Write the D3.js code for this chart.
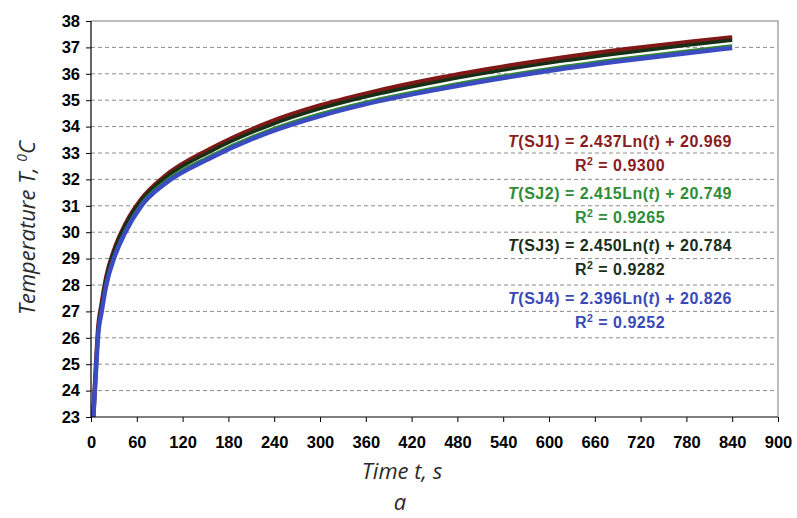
<!DOCTYPE html>
<html>
<head>
<meta charset="utf-8">
<script src="https://cdn.jsdelivr.net/npm/d3@7"></script>
<style>
  body { margin: 0; background: #fff; }
  svg { display: block; }
</style>
</head>
<body>
<svg id="chart" width="797" height="518"></svg>
<script>
// data ---------------------------------------------------
const times = [3, 5, 7, 9, 14, 20, 30, 45, 66, 96, 156, 235, 300, 360, 457, 540, 614, 700, 780, 840]
const sj1 = [23.0, 24.1, 25.2, 26.2, 27.3, 28.3, 29.3, 30.3, 31.25, 32.1, 33.15, 34.18, 34.8, 35.25, 35.85, 36.27, 36.6, 36.93, 37.2, 37.38]
const sj3 = [23.0, 24.1, 25.15, 26.15, 27.25, 28.25, 29.25, 30.25, 31.2, 32.03, 33.05, 34.06, 34.68, 35.13, 35.72, 36.14, 36.47, 36.8, 37.08, 37.27]
const sj2 = [23.0, 24.05, 25.05, 26.05, 27.1, 28.1, 29.1, 30.1, 31.1, 31.92, 32.9, 33.9, 34.5, 34.95, 35.52, 35.94, 36.27, 36.6, 36.88, 37.08]
const sj4 = [23.0, 24.0, 25.0, 26.0, 27.0, 28.0, 29.0, 30.0, 31.0, 31.82, 32.8, 33.8, 34.4, 34.85, 35.42, 35.84, 36.17, 36.5, 36.78, 36.98]

const seriesNames = ['SJ1', 'SJ2', 'SJ3', 'SJ4']
const fitSlope = ['2.437', '2.415', '2.450', '2.396']
const fitIntercept = ['20.969', '20.749', '20.784', '20.826']
const fitR2 = ['0.9300', '0.9265', '0.9282', '0.9252']

const xTicks = d3.range(0, 901, 60)
const yTicks = d3.range(23, 39, 1)

const lineColor = { SJ1: '#801818', SJ2: '#2f8a30', SJ3: '#163016', SJ4: '#3a4cc0' }
const textColor = { SJ1: '#8a1c1c', SJ2: '#2e8c36', SJ3: '#1a2e1a', SJ4: '#3948b8' }

// chart ------------------------------
function draw() {
  const svg = d3.select('#chart')
  const left = 91
  const right = 778
  const top = 21
  const bottom = 417

  const x = d3.scaleLinear().domain([0, 900]).range([left, right])
  const y = d3.scaleLinear().domain([23, 38]).range([bottom, top])

  svg.append('rect').attr('width', 797).attr('height', 518).attr('fill', '#fff')

  // dashed grid
  svg
    .append('g')
    .selectAll('line')
    .data(yTicks.filter((d) => d > 23 && d < 38))
    .join('line')
    .attr('x1', left)
    .attr('x2', right)
    .attr('y1', (d) => y(d))
    .attr('y2', (d) => y(d))
    .attr('stroke', '#8c8c8c')
    .attr('stroke-width', 1)
    .attr('stroke-dasharray', '4,3')

  // plot frame top + right
  svg
    .append('path')
    .attr('d', `M${left},${y(38)}H${x(900)}V${y(23)}`)
    .attr('fill', 'none')
    .attr('stroke', '#a8a8a8')
    .attr('stroke-width', 1.5)

  // series
  const series = [
    { name: 'SJ1', values: sj1, w: 4.5 },
    { name: 'SJ3', values: sj3, w: 3.5 },
    { name: 'SJ2', values: sj2, w: 2.2 },
    { name: 'SJ4', values: sj4, w: 4.5 }
  ]

  const line = d3
    .line()
    .x((d) => x(d[0]))
    .y((d) => y(d[1]))
    .curve(d3.curveMonotoneX)

  svg
    .append('g')
    .selectAll('path')
    .data(series)
    .join('path')
    .attr('d', (s) => line(times.map((t, i) => [t, s.values[i]])))
    .attr('fill', 'none')
    .attr('stroke', (s) => lineColor[s.name])
    .attr('stroke-width', (s) => s.w)
    .attr('stroke-linejoin', 'round')

  // axes
  const xAxis = d3.axisBottom(x).tickValues(xTicks).tickSize(5).tickPadding(8)
  const yAxis = d3.axisLeft(y).tickValues(yTicks).tickSize(5).tickPadding(6)

  const gx = svg.append('g').attr('transform', `translate(0,${bottom})`).call(xAxis)
  const gy = svg.append('g').attr('transform', `translate(${left},0)`).call(yAxis)

  ;[gx, gy].forEach((g) => {
    g.select('.domain').attr('stroke', '#000').attr('stroke-width', 1.2)
    g.selectAll('.tick line').attr('stroke', '#000')
    g.selectAll('.tick text')
      .attr('fill', '#000')
      .style('font-family', '"Liberation Sans", Arial, sans-serif')
      .style('font-weight', 'bold')
      .style('font-size', '16.5px')
  })
  gx.select('.domain').attr('d', `M${left},0H${right}`)
  gy.select('.domain').attr('d', `M0,${top}V${bottom}`)
  gx.selectAll('.tick text').attr('dy', '1.08em')

  // fit labels
  const labels = svg
    .append('g')
    .style('font-family', '"Liberation Sans", Arial, sans-serif')
    .style('font-weight', 'bold')
    .style('font-size', '16px')
    .style('letter-spacing', '0.5px')
    .attr('text-anchor', 'middle')

  seriesNames.forEach((name, i) => {
    const cy = 141 + i * 52.3
    const eq = labels
      .append('text')
      .attr('x', 620)
      .attr('y', cy)
      .attr('dy', '0.35em')
      .attr('fill', textColor[name])
    eq.append('tspan').style('font-style', 'italic').text('T')
    eq.append('tspan').text(`(${name}) = ${fitSlope[i]}Ln(`)
    eq.append('tspan').style('font-style', 'italic').text('t')
    eq.append('tspan').text(`) + ${fitIntercept[i]}`)

    const r2 = labels
      .append('text')
      .attr('x', 620)
      .attr('y', cy + 24)
      .attr('dy', '0.35em')
      .attr('fill', textColor[name])
    r2.append('tspan').text('R')
    r2.append('tspan').attr('dy', -6).style('font-size', '10.5px').text('2')
    r2.append('tspan').attr('dy', 6).text(` = ${fitR2[i]}`)
  })

  // axis titles
  const titleFont = '"Open Sans", "DejaVu Sans", sans-serif'
  const yt = svg
    .append('text')
    .attr('transform', 'translate(35,228) rotate(-90)')
    .attr('text-anchor', 'middle')
    .style('font-family', titleFont)
    .style('font-style', 'italic')
    .style('font-size', '22px')
    .attr('fill', '#2a2a2a')
  yt.append('tspan').text('Temperature T, ')
  yt.append('tspan').attr('dy', -8).style('font-size', '14px').text('0')
  yt.append('tspan').attr('dy', 8).text('C')

  svg
    .append('text')
    .attr('x', 402)
    .attr('y', 479)
    .attr('text-anchor', 'middle')
    .style('font-family', titleFont)
    .style('font-style', 'italic')
    .style('font-size', '22px')
    .attr('fill', '#2a2a2a')
    .text('Time t, s')

  svg
    .append('text')
    .attr('x', 400)
    .attr('y', 510)
    .attr('text-anchor', 'middle')
    .style('font-family', titleFont)
    .style('font-style', 'italic')
    .style('font-size', '22px')
    .attr('fill', '#2a2a2a')
    .text('a')
}

draw()
</script>
</body>
</html>
